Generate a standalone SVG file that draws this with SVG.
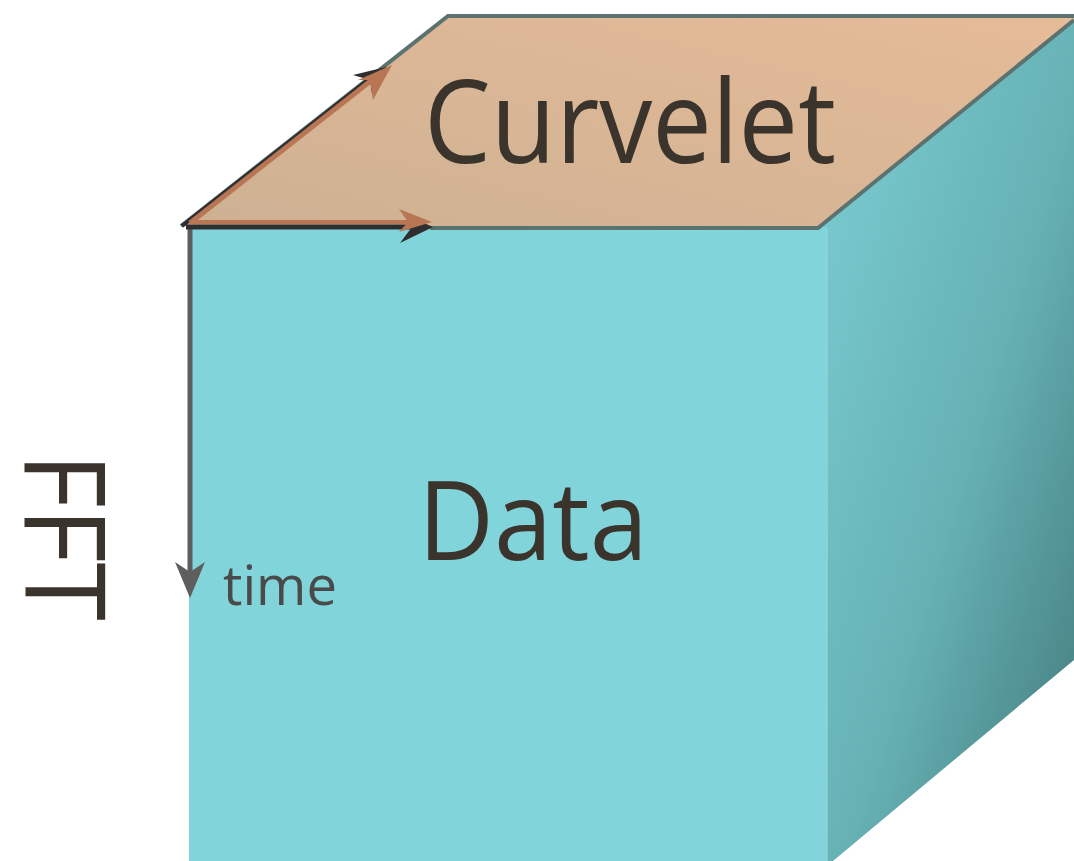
<svg xmlns="http://www.w3.org/2000/svg" width="1074" height="861" viewBox="0 0 1074 861">
  <style>
    .lbl { font-family: "Open Sans", "Noto Sans", "DejaVu Sans", sans-serif; fill: #3a342c; }
    .edge { fill: none; stroke: #5b7271; stroke-width: 4; stroke-linejoin: miter; }
  </style>
  <defs>
    <linearGradient id="sideShade" x1="0" y1="0" x2="1" y2="1">
      <stop offset="0" stop-color="#7ccfd5"/>
      <stop offset="0.55" stop-color="#66b1b4"/>
      <stop offset="1" stop-color="#427a7b"/>
    </linearGradient>
    <linearGradient id="topShade" x1="0" y1="1" x2="1" y2="0">
      <stop offset="0" stop-color="#cdb193"/>
      <stop offset="1" stop-color="#e6bb98"/>
    </linearGradient>
  </defs>

  <rect width="1074" height="861" fill="#ffffff"/>

  <!-- cube -->
  <g id="cube">
    <polygon id="side-face" points="818,228 1074,18 1074,660 827,866 827,228" fill="url(#sideShade)"/>
    <rect id="front-face" x="189" y="227" width="638" height="640" fill="#80d4da"/>
    <line x1="827" y1="230" x2="827" y2="861" stroke="#9fd3d6" stroke-width="2" opacity="0.6"/>
    <polygon id="top-face" points="181,226 448,16 1074,16 1074,20 818,228" fill="url(#topShade)"/>
    <polyline class="edge" points="181,226 448,16 1074,16"/>
    <polyline class="edge" points="1074,20 818,228 430,228"/>
  </g>

  <!-- axis arrows -->
  <g id="connectors">
    <!-- time axis -->
    <line x1="190" y1="226" x2="190" y2="580" stroke="#5e5e5e" stroke-width="5"/>
    <polygon points="175,562 190,598 205,562 190,572" fill="#5e5e5e"/>
    <!-- horizontal axis, dark under orange -->
    <line x1="186" y1="227" x2="420" y2="227" stroke="#2e2e2e" stroke-width="5"/>
    <polygon points="400,243 433,227 403,214 412,227" fill="#2e2e2e"/>
    <line x1="190" y1="222" x2="418" y2="222" stroke="#b87654" stroke-width="4"/>
    <polygon points="399,209 432,222 399,232 408,222" fill="#b87654"/>
    <!-- diagonal axis, dark under orange -->
    <line x1="182" y1="226" x2="378" y2="72" stroke="#2e2e2e" stroke-width="4"/>
    <polygon points="353,75 386,67 372,94 370,80" fill="#2e2e2e"/>
    <line x1="190" y1="223" x2="382" y2="72" stroke="#b87654" stroke-width="5"/>
    <polygon points="373,100 392,65 358,80 370,80" fill="#b87654"/>
  </g>

  <!-- labels -->
  <g id="labels">
    <text class="lbl" x="424" y="163" font-size="116" textLength="412" lengthAdjust="spacingAndGlyphs">Curvelet</text>
    <text class="lbl" x="418" y="560" font-size="109" textLength="230" lengthAdjust="spacingAndGlyphs">Data</text>
    <text class="lbl" x="223" y="605" font-size="55" textLength="114" lengthAdjust="spacingAndGlyphs" style="fill:#4a4a4a">time</text>
    <text class="lbl" x="0" y="0" font-size="112" textLength="168" lengthAdjust="spacingAndGlyphs" transform="translate(25,453) rotate(90)">FFT</text>
  </g>
</svg>
